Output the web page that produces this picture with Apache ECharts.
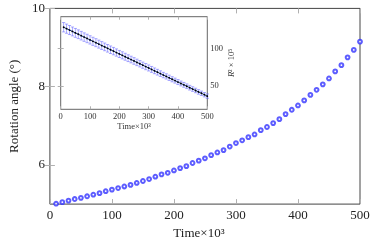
<!DOCTYPE html>
<html>
<head>
<meta charset="utf-8">
<script src="https://cdn.jsdelivr.net/npm/echarts@6/dist/echarts.min.js"></script>
<style>html,body{margin:0;padding:0;background:#fff}#c{width:374px;height:245px}</style>
</head>
<body>
<div id="c"></div>
<script>
// Main plot data
const timeMain = [10,20,30,40,50,60,70,80,90,100,110,120,130,140,150,160,170,180,190,200,
  210,220,230,240,250,260,270,280,290,300,310,320,330,340,350,360,370,380,390,400,
  410,420,430,440,450,460,470,480,490,500];
const angle = [5.01,5.05,5.09,5.13,5.16,5.20,5.24,5.28,5.33,5.37,5.41,5.45,5.49,5.54,5.59,5.64,5.70,5.76,5.80,5.86,
  5.92,5.97,6.05,6.11,6.17,6.25,6.32,6.38,6.47,6.56,6.63,6.71,6.78,6.89,6.97,7.07,7.17,7.30,7.41,7.52,
  7.65,7.79,7.92,8.06,8.21,8.39,8.55,8.75,8.94,9.15];
const mainXTicks = [0,100,200,300,400,500];
const mainYTicks = [6,8,10];

// Inset data
const timeInset = timeMain;
const r2 = [128.0,126.1,124.3,122.4,120.5,118.7,116.8,114.9,113.1,111.2,109.3,107.5,105.6,103.7,101.9,100.0,98.1,96.3,94.4,92.5,
  90.7,88.8,86.9,85.1,83.2,81.3,79.5,77.6,75.7,73.9,72.0,70.1,68.3,66.4,64.5,62.7,60.8,58.9,57.1,55.2,
  53.3,51.5,49.6,47.7,45.9,44.0,42.1,40.3,38.4,36.5];
const r2err = [6.2,6.1,6.0,5.9,5.9,5.8,5.7,5.6,5.6,5.5,5.4,5.3,5.3,5.2,5.1,5.0,5.0,4.9,4.8,4.7,
  4.7,4.6,4.5,4.4,4.4,4.3,4.2,4.1,4.1,4.0,3.9,3.8,3.8,3.7,3.6,3.5,3.5,3.4,3.3,3.3,
  3.2,3.2,3.1,3.1,3.0,3.0,3.0,2.9,2.9,2.9];
const insetYTicks = [50,100];

const FONT = 'Liberation Serif';
const tickStyle = {show:true, inside:true, length:5, lineStyle:{color:'#b0b0b0', width:1}};
const tickStyleSmall = {show:true, inside:true, length:3, lineStyle:{color:'#b0b0b0', width:1}};

const chart = echarts.init(document.getElementById('c'), null, {renderer:'canvas'});
chart.setOption({
  animation:false,
  backgroundColor:'#fff',
  grid:[
    {left:49, right:14, top:8.4, bottom:40, show:true, borderColor:'#444', borderWidth:1, backgroundColor:'transparent'},
    {left:60.7, right:166.7, top:16.7, bottom:135.7, show:true, borderColor:'#666', borderWidth:1, backgroundColor:'#fff'}
  ],
  xAxis:[
    {type:'value', gridIndex:0, position:'bottom', min:0, max:500, interval:100,
     axisLine:{show:false}, splitLine:{show:false}, axisTick:tickStyle,
     axisLabel:{fontFamily:FONT, fontSize:13, color:'#222', margin:5},
     name:'Time×10³', nameLocation:'middle', nameGap:21,
     nameTextStyle:{fontFamily:FONT, fontSize:13, color:'#222', padding:[0,12,0,0]}},
    {type:'value', gridIndex:0, position:'top', min:0, max:500, interval:100,
     axisLine:{show:false}, splitLine:{show:false}, axisTick:tickStyle, axisLabel:{show:false}},
    {type:'value', gridIndex:1, position:'bottom', min:0, max:500, interval:100,
     axisLine:{show:false}, splitLine:{show:false}, axisTick:tickStyleSmall,
     axisLabel:{fontFamily:FONT, fontSize:8.5, color:'#333', margin:3},
     name:'Time×10³', nameLocation:'middle', nameGap:12,
     nameTextStyle:{fontFamily:FONT, fontSize:8.5, color:'#333'}},
    {type:'value', gridIndex:1, position:'top', min:0, max:500, interval:100,
     axisLine:{show:false}, splitLine:{show:false}, axisTick:tickStyleSmall, axisLabel:{show:false}}
  ],
  yAxis:[
    {type:'value', gridIndex:0, position:'left', min:5, max:10,
     axisLine:{show:false}, splitLine:{show:false},
     axisTick:Object.assign({customValues:mainYTicks}, tickStyle),
     axisLabel:{customValues:mainYTicks, fontFamily:FONT, fontSize:13, color:'#222', margin:5},
     name:'Rotation angle (°)', nameLocation:'middle', nameGap:28, nameRotate:90,
     nameTextStyle:{fontFamily:FONT, fontSize:13, color:'#222'}},
    {type:'value', gridIndex:0, position:'right', min:5, max:10,
     axisLine:{show:false}, splitLine:{show:false},
     axisTick:Object.assign({customValues:mainYTicks}, tickStyle), axisLabel:{show:false}},
    {type:'value', gridIndex:1, position:'right', min:19, max:142,
     axisLine:{show:false}, splitLine:{show:false},
     axisTick:Object.assign({customValues:insetYTicks}, tickStyleSmall),
     axisLabel:{customValues:insetYTicks, fontFamily:FONT, fontSize:8.5, color:'#333', margin:3},
     name:'{i|R}{n|² × 10⁵}', nameLocation:'middle', nameGap:18, nameRotate:90,
     nameTextStyle:{fontFamily:FONT, fontSize:8.5, color:'#333',
       rich:{i:{fontFamily:FONT, fontSize:8.5, fontStyle:'italic', color:'#333'}, n:{fontFamily:FONT, fontSize:8.5, color:'#333'}}}},
    {type:'value', gridIndex:1, position:'left', min:19, max:142,
     axisLine:{show:false}, splitLine:{show:false},
     axisTick:Object.assign({customValues:insetYTicks}, tickStyleSmall), axisLabel:{show:false}}
  ],
  series:[
    {type:'scatter', xAxisIndex:0, yAxisIndex:0,
     data: timeMain.map((t,i)=>[t, angle[i]]),
     symbol:'emptyCircle', symbolSize:3.8,
     itemStyle:{color:'#3535ff', borderWidth:0.9}, z:5},
    {type:'custom', xAxisIndex:2, yAxisIndex:2,
     data: timeInset.map((t,i)=>[t, r2[i], r2err[i]]),
     renderItem:function(params, api){
       const x = api.value(0), y = api.value(1), e = api.value(2);
       const lo = api.coord([x, y-e]), hi = api.coord([x, y+e]);
       const w = 1.6;
       const st = {stroke:'rgba(100,100,255,0.7)', lineWidth:0.8};
       return {type:'group', children:[
         {type:'line', shape:{x1:lo[0], y1:lo[1], x2:hi[0], y2:hi[1]}, style:st},
         {type:'line', shape:{x1:lo[0]-w, y1:lo[1], x2:lo[0]+w, y2:lo[1]}, style:st},
         {type:'line', shape:{x1:hi[0]-w, y1:hi[1], x2:hi[0]+w, y2:hi[1]}, style:st}
       ]};
     }, z:3},
    {type:'line', xAxisIndex:2, yAxisIndex:2,
     data: timeInset.map((t,i)=>[t, r2[i]]),
     symbol:'circle', symbolSize:1.8, showSymbol:true,
     lineStyle:{color:'#10306a', width:1},
     itemStyle:{color:'#000'}, z:4}
  ]
});
</script>
</body>
</html>
